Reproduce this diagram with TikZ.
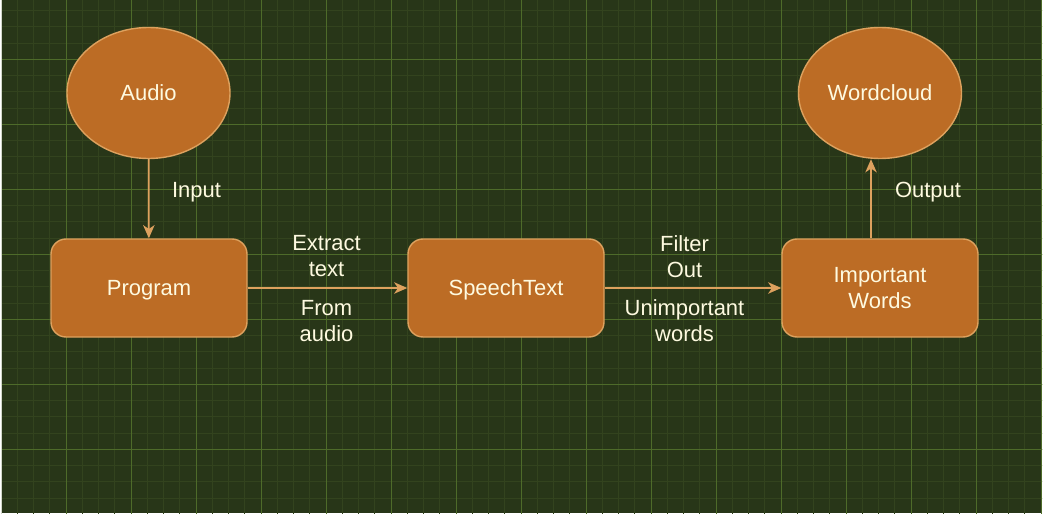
\documentclass[tikz,border=0pt]{standalone}
\usepackage{fontspec}
\setmainfont{Liberation Sans}
\usetikzlibrary{shapes.geometric, arrows.meta}
\definecolor{bgc}{HTML}{283618}
\definecolor{minorc}{HTML}{33431E}
\definecolor{majorc}{HTML}{4E6B2A}
\definecolor{fillc}{HTML}{BC6C25}
\definecolor{edgec}{HTML}{DDA15E}
\definecolor{txtc}{HTML}{FEFAE0}
\newcommand{\mainfnt}{\fontsize{12.5}{14.7}\selectfont}

\begin{document}
\begin{tikzpicture}[
  box/.style={draw=edgec,fill=fillc,line width=0.8pt,rounded corners=0.3cm,minimum width=3.92cm,minimum height=1.96cm,text=txtc,text depth=0pt,align=center,font=\mainfnt},
  oval/.style={ellipse,draw=edgec,fill=fillc,line width=0.8pt,minimum width=3.26cm,minimum height=2.62cm,inner sep=0pt,text=txtc,text depth=0pt,font=\mainfnt},
  lbl/.style={text=txtc,align=center,font=\mainfnt,inner sep=0pt},
  flow/.style={draw=edgec,line width=1pt,-{Stealth[length=7.5pt,width=6.5pt,inset=2.2pt]}}]
  % background and grid
  \fill[white] (0,0) rectangle (20.88,10.3);
  \fill[bgc] (0.04,0.04) rectangle (20.84,10.3);
  \begin{scope}
    \clip (0.04,0.04) rectangle (20.84,10.3);
    \draw[minorc,line width=0.55pt,shift={(0.02,0.014)},step=0.325] (-0.65,-0.65) grid (21.5,11);
    \draw[majorc,line width=0.55pt,shift={(0.02,0.014)},step=1.3] (-1.3,-1.3) grid (22.1,11.7);
  \end{scope}
  \useasboundingbox (0,0) rectangle (20.88,10.3);
  % nodes
  \node[oval] (audio) at (2.97,8.44) {Audio};
  \node[oval] (wc) at (17.6,8.44) {Wordcloud};
  \node[box] (prog) at (2.98,4.54) {Program};
  \node[box] (speech) at (10.12,4.54) {SpeechText};
  \node[box] (imp) at (17.6,4.54) {Important\\Words};
  % connectors
  \draw[flow] (audio) -- (prog);
  \draw[flow] (prog) -- (speech);
  \draw[flow] (speech) -- (imp);
  \draw[flow] ([xshift=-0.18cm]imp.north) -- ([xshift=-0.18cm]imp.north |- wc.south);
  % labels
  \node[lbl] (lin) at (3.93,6.45) {Input};
  \node[lbl] (lout) at (18.56,6.46) {Output};
  \node[lbl] (lext) at (6.53,5.18) {Extract\\text};
  \node[lbl] (lfrom) at (6.53,3.88) {From\\audio};
  \node[lbl] (lfil) at (13.69,5.17) {Filter\\Out};
  \node[lbl] (lunim) at (13.69,3.89) {Unimportant\\words};
\end{tikzpicture}
\end{document}
